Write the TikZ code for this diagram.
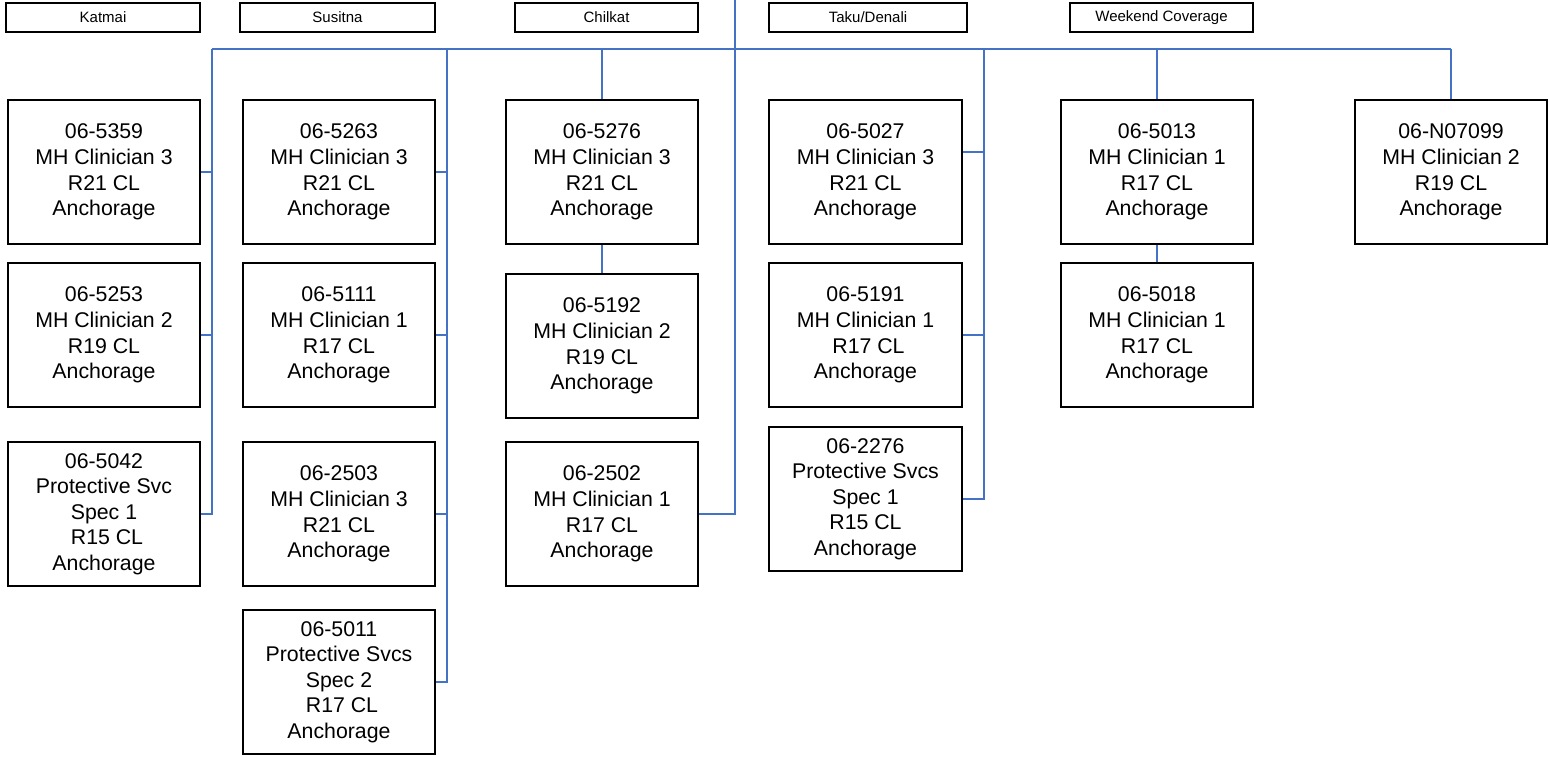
\documentclass[tikz,border=0pt]{standalone}
\usepackage{fontspec}
\setmainfont{Liberation Sans}
\definecolor{linkblue}{RGB}{68,114,196}
\begin{document}
\begin{tikzpicture}[x=1pt,y=-1pt,
  pbox/.style={draw, line width=1.3pt, minimum width=192pt, minimum height=144pt,
    inner sep=0pt, align=center, font=\fontsize{21.3pt}{25.6pt}\selectfont},
  hbox/.style={draw, line width=1.2pt, minimum height=29pt, inner sep=0pt,
    font=\fontsize{15pt}{18pt}\selectfont},
  link/.style={draw=linkblue, line width=1.8pt}]
\useasboundingbox (0,0) rectangle (1549,756);

% header boxes
\node[hbox, minimum width=194pt] (hk) at (103,17.5) {Katmai};
\node[hbox, minimum width=195pt] (hs) at (337.5,17.5) {Susitna};
\node[hbox, minimum width=183pt] (hc) at (606.5,17.5) {Chilkat};
\node[hbox, minimum width=198pt] (ht) at (868,17.5) {Taku/Denali};
\node[hbox, minimum width=183pt] (hw) at (1161.5,17.5) {Weekend Coverage};

% Katmai
\node[pbox] (k1) at (104,172) {06-5359\\MH Clinician 3\\R21 CL\\Anchorage};
\node[pbox] (k2) at (104,335) {06-5253\\MH Clinician 2\\R19 CL\\Anchorage};
\node[pbox] (k3) at (104,514) {06-5042\\Protective Svc\\Spec 1\\\hspace*{0.28em}R15 CL\\Anchorage};
% Susitna
\node[pbox] (s1) at (339,172) {06-5263\\MH Clinician 3\\R21 CL\\Anchorage};
\node[pbox] (s2) at (339,335) {06-5111\\MH Clinician 1\\R17 CL\\Anchorage};
\node[pbox] (s3) at (339,514) {06-2503\\MH Clinician 3\\R21 CL\\Anchorage};
\node[pbox] (s4) at (339,682) {06-5011\\Protective Svcs\\Spec 2\\\hspace*{0.28em}R17 CL\\Anchorage};
% Chilkat
\node[pbox] (c1) at (602,172) {06-5276\\MH Clinician 3\\R21 CL\\Anchorage};
\node[pbox] (c2) at (602,346) {06-5192\\MH Clinician 2\\R19 CL\\Anchorage};
\node[pbox] (c3) at (602,514) {06-2502\\MH Clinician 1\\R17 CL\\Anchorage};
% Taku/Denali
\node[pbox, minimum width=193pt] (t1) at (865.5,172) {06-5027\\MH Clinician 3\\R21 CL\\Anchorage};
\node[pbox, minimum width=193pt] (t2) at (865.5,335) {06-5191\\MH Clinician 1\\\hspace*{0.28em}R17 CL\\Anchorage};
\node[pbox, minimum width=193pt] (t3) at (865.5,499) {06-2276\\Protective Svcs\\Spec 1\\R15 CL\\Anchorage};
% Weekend
\node[pbox] (w1) at (1157,172) {06-5013\\MH Clinician 1\\R17 CL\\Anchorage};
\node[pbox] (w2) at (1157,335) {06-5018\\MH Clinician 1\\R17 CL\\Anchorage};
% last column
\node[pbox] (n1) at (1451,172) {06-N07099\\MH Clinician 2\\R19 CL\\Anchorage};

% bus coordinates
\coordinate (top) at (735,0);
\coordinate (bk) at (212,49);
\coordinate (bs) at (447,49);
\coordinate (bc) at (602,49);
\coordinate (bm) at (735,49);
\coordinate (bt) at (984,49);
\coordinate (bw) at (1157,49);
\coordinate (bn) at (1451,49);
\coordinate (t1s) at ([yshift=20pt]t1.east);

% bus
\draw[link] (bk) -- (bn);
\draw[link] (top) |- (c3.east);
% Katmai
\draw[link] (bk) |- (k3.east);
\draw[link] (bk |- k1.east) -- (k1.east);
\draw[link] (bk |- k2.east) -- (k2.east);
% Susitna
\draw[link] (bs) |- (s4.east);
\draw[link] (bs |- s1.east) -- (s1.east);
\draw[link] (bs |- s2.east) -- (s2.east);
\draw[link] (bs |- s3.east) -- (s3.east);
% Chilkat
\draw[link] (bc) -- (c1.north);
\draw[link] (c1.south) -- (c2.north);
% Taku
\draw[link] (bt) |- (t3.east);
\draw[link] (t1s) -- (t1s -| bt);
\draw[link] (bt |- t2.east) -- (t2.east);
% Weekend
\draw[link] (bw) -- (w1.north);
\draw[link] (w1.south) -- (w2.north);
% last
\draw[link] (bn) -- (n1.north);
\end{tikzpicture}
\end{document}
